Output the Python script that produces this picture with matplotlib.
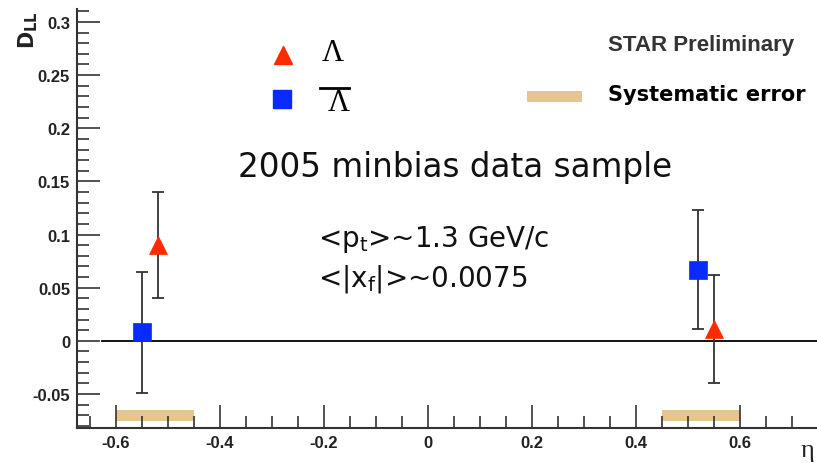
import numpy as np
import matplotlib
matplotlib.use("Agg")
import matplotlib.pyplot as plt
from matplotlib.ticker import MultipleLocator
from matplotlib.patches import Rectangle

# D_LL vs eta for Lambda and anti-Lambda
lam_eta = [-0.52, 0.55]
lam_dll = [0.090, 0.011]
lam_err = [0.050, 0.051]

alam_eta = [-0.55, 0.52]
alam_dll = [0.008, 0.067]
alam_err = [0.057, 0.056]

# systematic error bands (eta range, lower edge, height)
sys_lo = [-0.60, 0.45]
sys_hi = [-0.45, 0.60]
sys_base = [-0.0755, -0.0755]
sys_size = [0.0100, 0.0100]

x_ticks = [-0.6, -0.4, -0.2, 0, 0.2, 0.4, 0.6]
y_ticks = [-0.05, 0, 0.05, 0.1, 0.15, 0.2, 0.25, 0.3]

red = "#ff2a00"
blue = "#0a2bff"
tan = "#e6c590"
axcol = "#333333"

fig = plt.figure(figsize=(8.17, 4.64), dpi=100)
ax = fig.add_axes([0.0942, 0.0754, 0.9058, 0.9026])
ax.set_xlim(-0.675, 0.748)
ax.set_ylim(-0.082, 0.312)

for lo, hi, b, h in zip(sys_lo, sys_hi, sys_base, sys_size):
    ax.add_patch(Rectangle((lo, b), hi - lo, h, facecolor=tan, edgecolor="none", zorder=1))

ax.plot([-0.627, 0.748], [0, 0], color="black", lw=1.3, zorder=2)

ax.errorbar(alam_eta, alam_dll, yerr=alam_err, fmt="none", ecolor=axcol,
            elinewidth=1.3, capsize=4.3, capthick=1.3, zorder=3)
ax.errorbar(lam_eta, lam_dll, yerr=lam_err, fmt="none", ecolor=axcol,
            elinewidth=1.3, capsize=4.3, capthick=1.3, zorder=3)
ax.plot(alam_eta, alam_dll, "s", color=blue, ms=13, mec=blue, mew=0.5, zorder=4)
ax.plot(lam_eta, lam_dll, "^", color=red, ms=13, mec=red, mew=0.5, zorder=4)

for s in ["top", "right"]:
    ax.spines[s].set_visible(False)
for s in ["left", "bottom"]:
    ax.spines[s].set_color(axcol)
    ax.spines[s].set_linewidth(1.5)

ax.set_xticks(x_ticks)
ax.set_yticks(y_ticks)
ax.set_xticklabels(["%g" % v for v in x_ticks])
ax.set_yticklabels(["%g" % v for v in y_ticks])
ax.xaxis.set_minor_locator(MultipleLocator(0.05))
ax.yaxis.set_minor_locator(MultipleLocator(0.01))
ax.tick_params(which="major", direction="in", length=16.5, width=1.2, color=axcol,
               labelsize=12, pad=5)
ax.tick_params(which="minor", direction="in", length=8.6, width=1.2, color=axcol)
for lab in ax.get_xticklabels() + ax.get_yticklabels():
    lab.set_fontfamily("Liberation Sans")
    lab.set_fontweight("bold")
    lab.set_color("#222222")

fig.text(0.997, 0.005, "η", fontsize=19, ha="right", va="bottom", color="#222222",
         fontfamily="Liberation Serif")
fig.text(0.02, 0.975, r"$\mathbf{D_{LL}}$", fontsize=15, rotation=90,
         ha="left", va="top", color="#222222")

# legend
ax.plot([-0.279], [0.269], "^", color=red, ms=13, mec=red, clip_on=False)
ax.plot([-0.280], [0.2274], "s", color=blue, ms=13, mec=blue, clip_on=False)
ax.text(-0.183, 0.2716, "Λ", fontsize=22, ha="center", va="center",
        fontfamily="Liberation Serif")
ax.text(-0.172, 0.2246, "Λ", fontsize=22, ha="center", va="center",
        fontfamily="Liberation Serif")
ax.plot([-0.2077, -0.152], [0.2377, 0.2377], color="black", lw=2)
ax.add_patch(Rectangle((0.19, 0.2245), 0.107, 0.011, facecolor=tan, edgecolor="none"))
ax.text(0.347, 0.279, "STAR Preliminary", fontsize=16, fontweight="bold",
        fontfamily="Liberation Sans", color="#333333", ha="left", va="center")
ax.text(0.347, 0.232, "Systematic error", fontsize=15, fontweight="bold",
        fontfamily="DejaVu Sans", color="black", ha="left", va="center")

ax.text(0.052, 0.164, "2005 minbias data sample", fontsize=23.5, ha="center",
        va="center", color="#111111")
ax.text(-0.212, 0.096, r"<p$_\mathregular{t}$>~1.3 GeV/c", fontsize=20,
        ha="left", va="center", color="#111111")
ax.text(-0.212, 0.059, r"<|x$_\mathregular{f}$|>~0.0075", fontsize=20,
        ha="left", va="center", color="#111111")

fig.savefig("out.png", dpi=100)
